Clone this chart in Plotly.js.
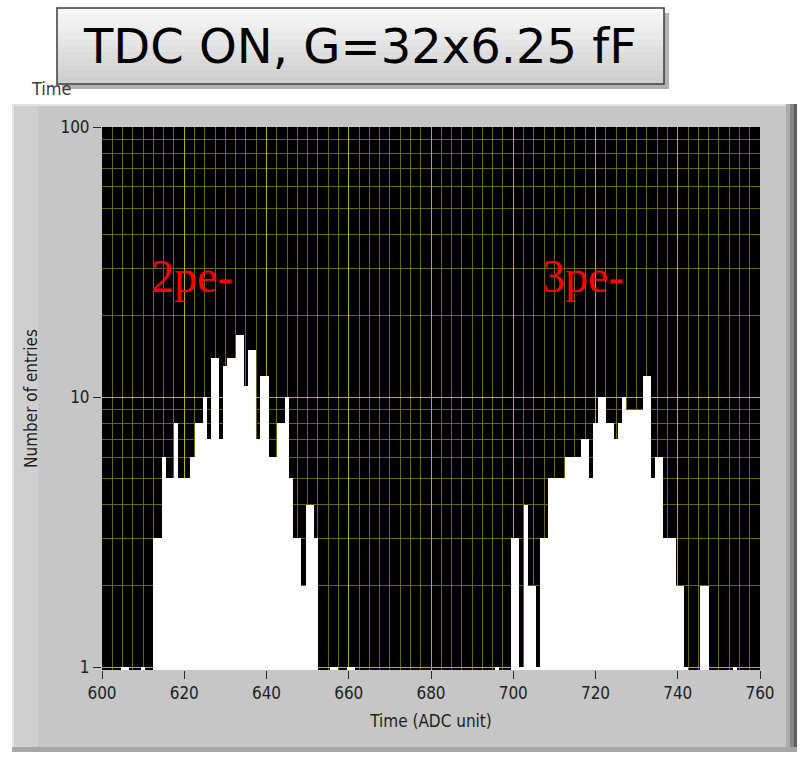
<!DOCTYPE html>
<html>
<head>
<meta charset="utf-8">
<script src="https://cdn.plot.ly/plotly-3.0.1.min.js"></script>
<style>
  html, body { margin: 0; padding: 0; background: #ffffff; }
  #chart { width: 808px; height: 758px; }
</style>
</head>
<body>
<div id="chart"></div>
<script>
// ---- data ----
const adcCode = [
  605, 606, 610,
  613, 614, 615, 616, 617, 618, 619, 620, 621, 622, 623, 624, 625, 626, 627, 628, 629, 630,
  631, 632, 633, 634, 635, 636, 637, 638, 639, 640, 641, 642, 643, 644, 645, 646, 647, 648,
  649, 650, 651, 652,
  656, 657, 660, 661, 696,
  700, 701, 702, 703, 704, 705, 706, 707, 708, 709, 710, 711, 712, 713, 714, 715, 716, 717,
  718, 719, 720, 721, 722, 723, 724, 725, 726, 727, 728, 729, 730, 731, 732, 733, 734, 735,
  736, 737, 738, 739, 740, 741, 742,
  746, 747, 754
];
const entries = [
  1, 1, 1,
  3, 3, 6, 5, 5, 8, 5, 5, 5, 6, 8, 8, 10, 7, 14, 14, 7, 13,
  14, 14, 17, 17, 11, 15, 15, 7, 12, 12, 6, 6, 8, 8, 10, 5, 3, 3,
  2, 4, 4, 3,
  1, 1, 1, 1, 1,
  3, 3, 1, 4, 2, 2, 1, 3, 3, 5, 5, 5, 5, 6, 6, 6, 6, 7,
  7, 5, 8, 10, 10, 8, 8, 7, 8, 10, 9, 9, 9, 9, 12, 12, 5, 6,
  6, 3, 3, 3, 2, 2, 1,
  2, 2, 1
];
const xTickVals = [600, 620, 640, 660, 680, 700, 720, 740, 760];
const xTickText = ['600', '620', '640', '660', '680', '700', '720', '740', '760'];
const yTickVals = [1, 10, 100];
const yTickText = ['1', '10', '100'];
const yMinorVals = [2, 3, 4, 5, 6, 7, 8, 9, 20, 30, 40, 50, 60, 70, 80, 90];
const chartTitle = 'TDC ON, G=32x6.25 fF';
const peakLabels = ['2pe-', '3pe-'];

// ---- geometry helpers (pixel -> paper) ----
const W = 808, H = 758;
const M = { l: 102, r: 48, t: 127, b: 88 };
const PW = W - M.l - M.r, PH = H - M.t - M.b;
const px = v => (v - M.l) / PW;
const py = v => (H - M.b - v) / PH;
const rect = (x0, y0, x1, y1, fill, layer) => ({
  type: 'rect', xref: 'paper', yref: 'paper', layer: layer || 'below',
  x0: px(x0), x1: px(x1), y0: py(y1), y1: py(y0),
  fillcolor: fill, line: { width: 0 }
});

const majorGrid = '#b8b000';
const minorGrid = '#6a6600';
const fontUI = 'DejaVu Sans Condensed, DejaVu Sans, sans-serif';

const shapes = [
  rect(12, 104, 797, 752, '#c6c6c6'),
  rect(12, 104, 38, 752, '#cfcfcf'),
  rect(12, 104, 797, 106, '#e2e2e2'),
  rect(12, 104, 14, 752, '#e2e2e2'),
  rect(786, 104, 790, 752, '#acacac'),
  rect(790, 104, 794, 752, '#858585'),
  rect(794, 104, 797, 752, '#5e5e5e'),
  rect(12, 747, 797, 752, '#a6a6a6'),
  rect(M.l, M.t, W - M.r, H - M.b, '#000000')
];
// title box shadow + gradient body
shapes.push(rect(62, 13, 669, 89, 'rgba(0,0,0,0.30)', 'above'));
const boxTop = 8, boxBot = 84, boxL = 57, boxR = 664, nb = 12;
for (let i = 0; i < nb; i++) {
  const g = Math.round(248 - (i / (nb - 1)) * 42);
  shapes.push(rect(boxL, boxTop + (boxBot - boxTop) * i / nb, boxR,
    boxTop + (boxBot - boxTop) * (i + 1) / nb + 0.5, `rgb(${g},${g},${g})`, 'above'));
}
shapes.push({ type: 'rect', xref: 'paper', yref: 'paper', layer: 'above',
  x0: px(boxL), x1: px(boxR), y0: py(boxBot), y1: py(boxTop),
  fillcolor: 'rgba(0,0,0,0)', line: { color: '#3c3c3c', width: 1.5 } });

const annotations = [
  { xref: 'paper', yref: 'paper', x: px(51), y: py(88), xanchor: 'center', yanchor: 'middle',
    text: 'Time', showarrow: false, font: { family: fontUI, size: 18, color: '#3a3a3a' } },
  { xref: 'paper', yref: 'paper', x: px(360), y: py(46), xanchor: 'center', yanchor: 'middle',
    text: chartTitle, showarrow: false, font: { family: 'DejaVu Sans, sans-serif', size: 48, color: '#000000' } },
  { xref: 'paper', yref: 'paper', x: px(149), y: py(276), xanchor: 'left', yanchor: 'middle',
    text: peakLabels[0], showarrow: false, font: { family: 'Liberation Serif, Times New Roman, serif', size: 46, color: '#ff0000' } },
  { xref: 'paper', yref: 'paper', x: px(540), y: py(276), xanchor: 'left', yanchor: 'middle',
    text: peakLabels[1], showarrow: false, font: { family: 'Liberation Serif, Times New Roman, serif', size: 46, color: '#ff0000' } }
];

const trace = {
  type: 'bar', x: adcCode, y: entries, width: 1,
  marker: { color: '#ffffff', line: { width: 0 } },
  hoverinfo: 'x+y'
};

const layout = {
  width: W, height: H,
  margin: { l: M.l, r: M.r, t: M.t, b: M.b, pad: 0 },
  paper_bgcolor: '#ffffff',
  plot_bgcolor: 'rgba(0,0,0,0)',
  showlegend: false,
  bargap: 0,
  font: { family: fontUI, size: 17, color: '#1e1e1e' },
  xaxis: {
    range: [600, 760], tickmode: 'array', tickvals: xTickVals, ticktext: xTickText,
    ticks: 'outside', ticklen: 8, tickwidth: 1, tickcolor: '#2a2a2a',
    showgrid: true, gridcolor: majorGrid, gridwidth: 1, zeroline: false, showline: false,
    minor: { dtick: 2.5, tick0: 600, showgrid: true, gridcolor: minorGrid, gridwidth: 1, ticks: '' },
    title: { text: 'Time (ADC unit)', standoff: 12, font: { family: fontUI, size: 17, color: '#1e1e1e' } },
    automargin: false
  },
  yaxis: {
    type: 'log', range: [-0.01, 2], tickmode: 'array', tickvals: yTickVals, ticktext: yTickText,
    ticks: 'outside', ticklen: 8, tickwidth: 1, tickcolor: '#2a2a2a',
    showgrid: true, gridcolor: majorGrid, gridwidth: 1, zeroline: false, showline: false,
    minor: { tickmode: 'array', tickvals: yMinorVals, showgrid: true, gridcolor: minorGrid, gridwidth: 1, ticks: '' },
    title: { text: 'Number of entries', standoff: 18, font: { family: fontUI, size: 17, color: '#1e1e1e' } },
    automargin: false
  },
  shapes: shapes,
  annotations: annotations
};

Plotly.newPlot('chart', [trace], layout, { displayModeBar: false, staticPlot: true });
</script>
</body>
</html>
